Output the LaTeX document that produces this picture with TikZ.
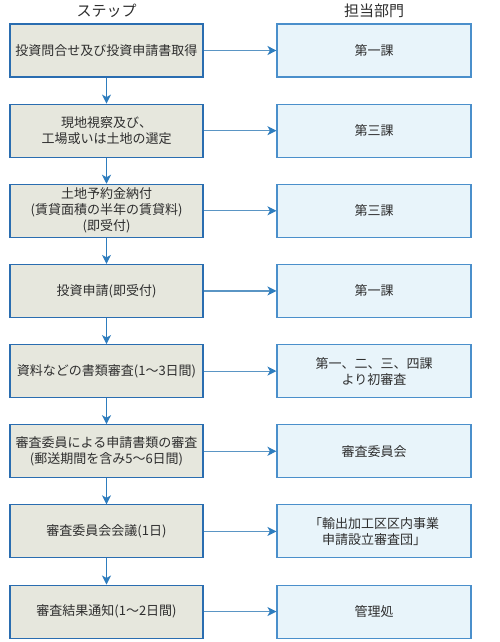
\documentclass[tikz,border=0pt]{standalone}
\usepackage{fontspec}
\setmainfont{Noto Sans CJK JP}
\usetikzlibrary{arrows.meta}
\definecolor{stepfill}{HTML}{E6E7DD}
\definecolor{stepdraw}{HTML}{2A6DB0}
\definecolor{deptfill}{HTML}{E8F4FA}
\definecolor{deptdraw}{HTML}{4A8FCB}
\definecolor{arrowcol}{HTML}{2E7DBE}
\definecolor{harrowcol}{HTML}{5A95C4}
\definecolor{txt}{HTML}{2E2E2E}
\begin{document}
\begin{tikzpicture}[x=1pt,y=1pt,
  every node/.style={text=txt,font=\fontsize{13}{16}\selectfont,align=center,inner sep=0pt},
  stepbox/.style={draw=stepdraw,fill=stepfill,line width=1.1pt,minimum width=193pt,minimum height=53pt},
  deptbox/.style={draw=deptdraw,fill=deptfill,line width=1.1pt,minimum width=194pt,minimum height=53pt},
  header/.style={font=\fontsize{15}{18}\selectfont},
  varrow/.style={draw=arrowcol,line width=1pt,-{Stealth[length=9pt,width=9pt,inset=2.5pt]}},
  harrow/.style={draw=harrowcol,line width=1.2pt,-{Stealth[length=9pt,width=9pt,inset=2.5pt,color=arrowcol]}}
]
\useasboundingbox (0,0) rectangle (499,-642);
\fill[white] (0,0) rectangle (499,-642);
\node[header] (h1) at (106.5,-11) {ステップ};
\node[header] (h2) at (374,-11) {担当部門};
\foreach \i/\s/\d in {
  1/{投資問合せ及び投資申請書取得}/{第一課},
  2/{現地視察及び、\\工場或いは土地の選定}/{第三課},
  3/{土地予約金納付\\(賃貸面積の半年の賃貸料)\\(即受付)}/{第三課},
  4/{投資申請(即受付)}/{第一課},
  5/{資料などの書類審査(1～3日間)}/{第一、二、三、四課\\より初審査},
  6/{審査委員による申請書類の審査\\(郵送期間を含み5～6日間)}/{審査委員会},
  7/{審査委員会会議(1日)}/{「輸出加工区区内事業\\申請設立審査団」},
  8/{審査結果通知(1～2日間)}/{管理処}}{
  \node[stepbox] (s\i) at (106.5,{-(50.5+80.15*(\i-1))}) {\s};
  \node[deptbox] (d\i) at (374,{-(50.5+80.15*(\i-1))}) {\d};
  \draw[harrow] (s\i.east) -- (d\i.west);
}
\foreach \i/\j in {1/2,2/3,3/4,4/5,5/6,6/7,7/8}{
  \draw[varrow] (s\i.south) -- (s\j.north);
}
\end{tikzpicture}
\end{document}
